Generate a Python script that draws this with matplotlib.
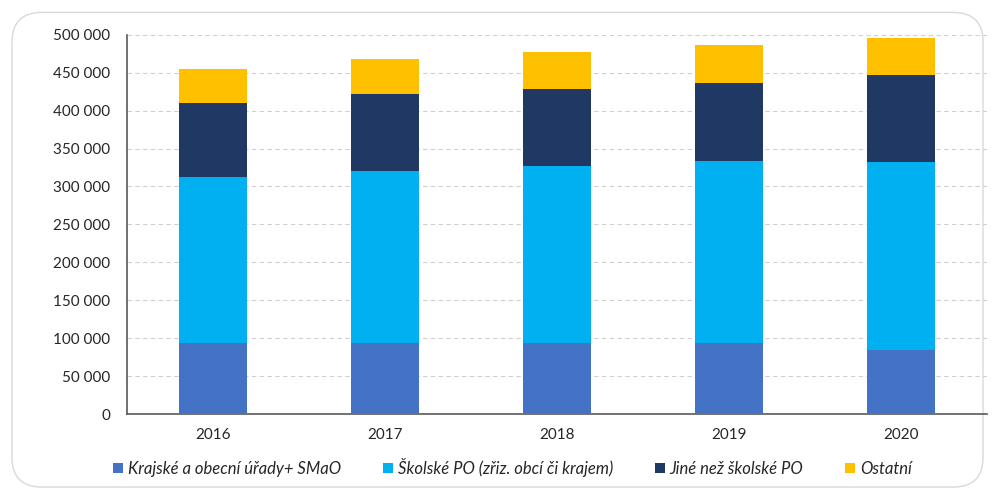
import matplotlib.pyplot as plt
from matplotlib.patches import FancyBboxPatch
from matplotlib.ticker import FuncFormatter
import numpy as np

plt.rcParams['font.family'] = ['Lato', 'DejaVu Sans']

years = ['2016', '2017', '2018', '2019', '2020']
urady = [94000, 94000, 94000, 93000, 85000]
skolske = [219000, 226000, 233000, 241000, 247000]
jine = [97000, 102000, 102000, 102000, 115000]
ostatni = [45000, 46000, 48000, 50000, 49000]

series = [
    ('Krajské a obecní úřady+ SMaO', urady, '#4472C4'),
    ('Školské PO (zřiz. obcí či krajem)', skolske, '#00B0F0'),
    ('Jiné než školské PO', jine, '#1F3864'),
    ('Ostatní', ostatni, '#FFC000'),
]

fig = plt.figure(figsize=(9.95, 4.97), dpi=100)
# rounded frame around the chart
frame = FancyBboxPatch((0.012, 0.02), 0.976, 0.955, boxstyle='round,pad=0,rounding_size=0.03',
                       transform=fig.transFigure, facecolor='none', edgecolor='#d9d9d9',
                       linewidth=1.0, mutation_aspect=2.0, zorder=-10)
fig.patches.append(frame)

ax = fig.add_axes([0.1276, 0.167, 0.8644, 0.763])
ax.set_facecolor('none')

x = np.arange(len(years))
bottom = np.zeros(len(years))
for label, vals, color in series:
    ax.bar(x, vals, bottom=bottom, width=0.395, color=color, label=label, zorder=3)
    bottom += np.array(vals)

ax.set_xlim(-0.5, 4.5)
ax.set_ylim(0, 500000)
ax.set_yticks(np.arange(0, 500001, 50000))
ax.yaxis.set_major_formatter(FuncFormatter(lambda v, p: f'{int(v):,}'.replace(',', ' ')))
ax.set_xticks(x)
ax.set_xticklabels(years)
ax.tick_params(axis='both', length=0, labelsize=11, colors='#262626')
ax.tick_params(axis='y', pad=12)
ax.tick_params(axis='x', pad=10)

ax.grid(axis='y', linestyle=(0, (4, 3)), color='#d0d0d0', linewidth=0.8, zorder=0)
for s in ['top', 'right']:
    ax.spines[s].set_visible(False)
for s in ['left', 'bottom']:
    ax.spines[s].set_color('#595959')
    ax.spines[s].set_linewidth(1.2)

leg = fig.legend(loc='center', bbox_to_anchor=(0.515, 0.06), ncol=4, frameon=False,
                 prop={'style': 'italic', 'size': 12}, handlelength=0.6, handleheight=0.6,
                 handletextpad=0.3, columnspacing=2.5)
for t in leg.get_texts():
    t.set_color('#262626')

plt.savefig('out.png', dpi=100)
